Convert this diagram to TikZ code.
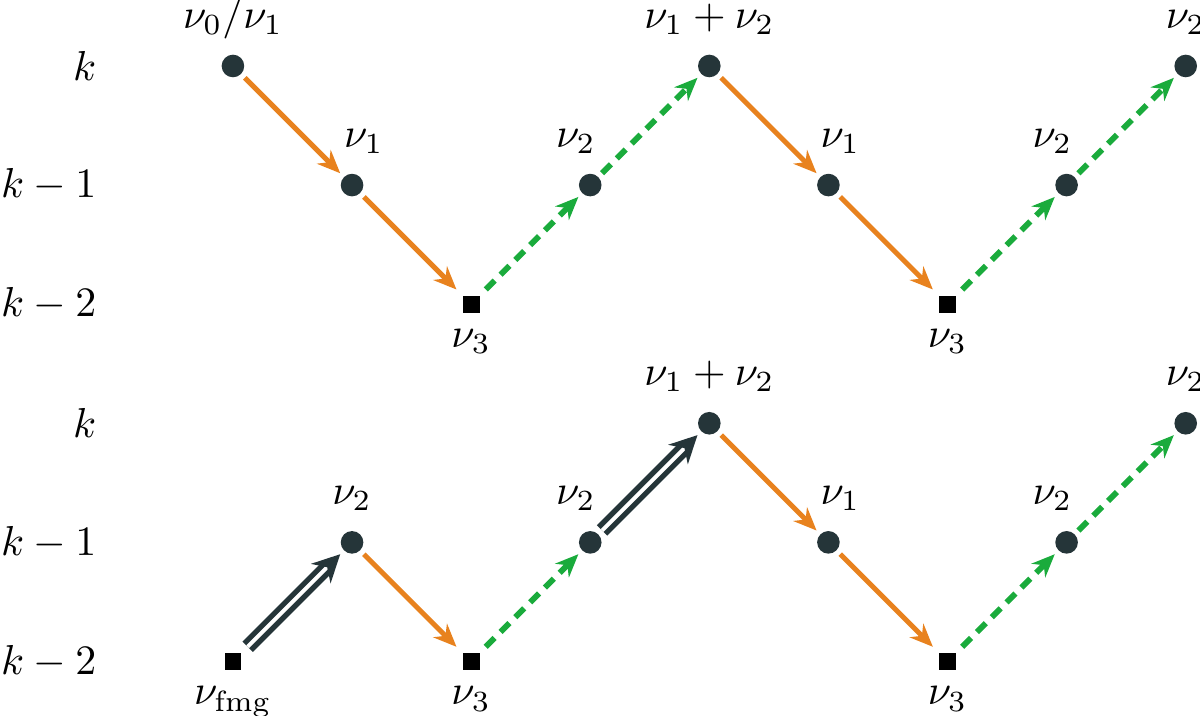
\documentclass[tikz,border=0pt]{standalone}
\usetikzlibrary{arrows.meta}
\definecolor{dotcol}{HTML}{253539}
\definecolor{fallcol}{HTML}{E8821E}
\definecolor{risecol}{HTML}{1AAB3C}

\begin{document}
\begin{tikzpicture}[
  pt/.style={circle,fill=dotcol,inner sep=0pt,minimum size=5.4pt,outer sep=1.3pt},
  sq/.style={rectangle,fill=black,inner sep=0pt,minimum size=4pt,outer sep=1.5pt},
  fall/.style={draw=fallcol,line width=1.2pt,-{Stealth[length=5.5pt,width=4.6pt]}},
  rise/.style={draw=risecol,line width=1.4pt,dash pattern=on 3pt off 2pt,-{Stealth[length=5.5pt,width=4.6pt]}},
  jump/.style={draw=dotcol,double=white,line width=1.3pt,double distance=0.9pt,-{Stealth[length=6.5pt,width=6.5pt]}},
  lvl/.style={anchor=east,inner sep=0pt},
]
\useasboundingbox (-1.956,-5.457) rectangle (8.12,0.554);
% levels
\node[lvl] (lk) at (-1.14,0) {$k$};
\node[lvl] (lk1) at (-1.14,-1) {$k-1$};
\node[lvl] (lk2) at (-1.14,-2) {$k-2$};
\node[lvl] (mk) at (-1.14,-3) {$k$};
\node[lvl] (mk1) at (-1.14,-4) {$k-1$};
\node[lvl] (mk2) at (-1.14,-5) {$k-2$};
% top cycle
\node[pt,label={[label distance=-1pt]above:$\nu_0/\nu_1$}] (t0) at (0,0) {};
\node[pt,label={[xshift=0.1cm]above:$\nu_1$}] (t1) at (1,-1) {};
\node[sq,label={[label distance=-1pt]below:$\nu_3$}] (t2) at (2,-2) {};
\node[pt,label={[xshift=-0.12cm]above:$\nu_2$}] (t3) at (3,-1) {};
\node[pt,label=above:{$\nu_1+\nu_2$}] (t4) at (4,0) {};
\node[pt,label={[xshift=0.1cm]above:$\nu_1$}] (t5) at (5,-1) {};
\node[sq,label={[label distance=-1pt]below:$\nu_3$}] (t6) at (6,-2) {};
\node[pt,label={[xshift=-0.12cm]above:$\nu_2$}] (t7) at (7,-1) {};
\node[pt,label=above:{$\nu_2$}] (t8) at (8,0) {};
\draw[fall] (t0) -- (t1);
\draw[fall] (t1) -- (t2);
\draw[rise] (t2) -- (t3);
\draw[rise] (t3) -- (t4);
\draw[fall] (t4) -- (t5);
\draw[fall] (t5) -- (t6);
\draw[rise] (t6) -- (t7);
\draw[rise] (t7) -- (t8);
% bottom cycle
\node[sq,label={[label distance=-1pt]below:$\nu_{\mathrm{fmg}}$}] (b0) at (0,-5) {};
\node[pt,label=above:{$\nu_2$}] (b1) at (1,-4) {};
\node[sq,label={[label distance=-1pt]below:$\nu_3$}] (b2) at (2,-5) {};
\node[pt,label={[xshift=-0.12cm]above:$\nu_2$}] (b3) at (3,-4) {};
\node[pt,label=above:{$\nu_1+\nu_2$}] (b4) at (4,-3) {};
\node[pt,label={[xshift=0.1cm]above:$\nu_1$}] (b5) at (5,-4) {};
\node[sq,label={[label distance=-1pt]below:$\nu_3$}] (b6) at (6,-5) {};
\node[pt,label={[xshift=-0.12cm]above:$\nu_2$}] (b7) at (7,-4) {};
\node[pt,label=above:{$\nu_2$}] (b8) at (8,-3) {};
\draw[jump] (b0) -- (b1);
\draw[fall] (b1) -- (b2);
\draw[rise] (b2) -- (b3);
\draw[jump] (b3) -- (b4);
\draw[fall] (b4) -- (b5);
\draw[fall] (b5) -- (b6);
\draw[rise] (b6) -- (b7);
\draw[rise] (b7) -- (b8);
\end{tikzpicture}
\end{document}
